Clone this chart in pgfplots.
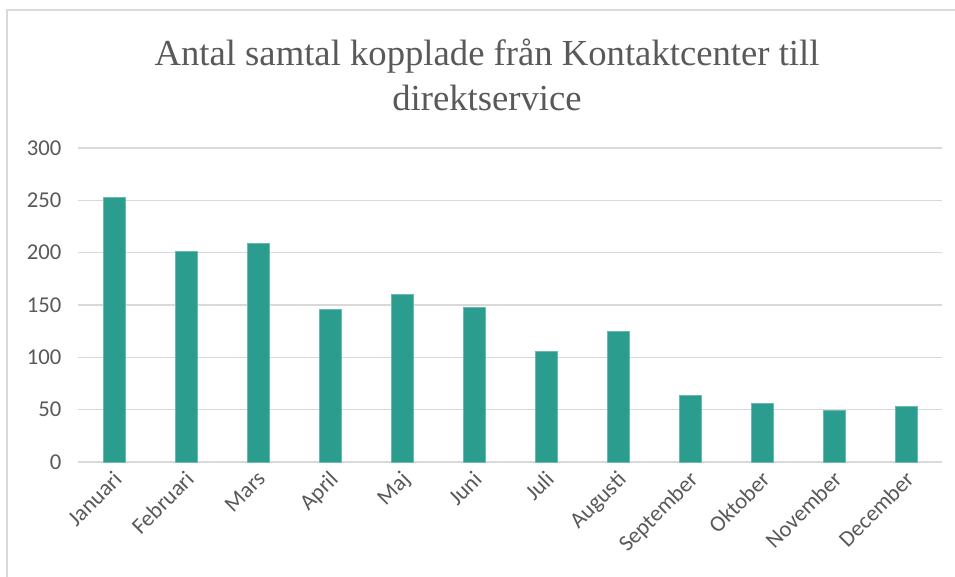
\documentclass[border=0pt]{standalone}
\usepackage{fontspec}
\setmainfont{Liberation Serif}
\newfontfamily\labelfont{Carlito}
\usepackage{pgfplots}
\pgfplotsset{compat=1.18}
\definecolor{barteal}{HTML}{2A9D8F}
\definecolor{txtgray}{HTML}{595959}
\definecolor{gridgray}{HTML}{D9D9D9}
\begin{document}
\begin{tikzpicture}
\useasboundingbox (0,0) rectangle (716.25pt,432.75pt);
\draw[gridgray,line width=1.5pt] (5.25pt,0) -- (5.25pt,425.25pt) -- (716.25pt,425.25pt);
\node[txtgray,align=center,font=\fontsize{27.5}{34}\selectfont] at (365.25pt,376.5pt)
  {Antal samtal kopplade från Kontaktcenter till\\direktservice};
\begin{axis}[
    at={(58.5pt,86.25pt)}, anchor=south west,
    scale only axis,
    width=648pt, height=235.5pt,
    ymin=0, ymax=300,
    xmin=-0.5, xmax=11.5,
    ytick={0,50,...,300},
    xtick=data,
    xticklabels={Januari,Februari,Mars,April,Maj,Juni,Juli,Augusti,September,Oktober,November,December},
    xticklabel style={rotate=45, anchor=north east, font=\labelfont\fontsize{17}{18}\selectfont, text=txtgray, inner sep=3pt, xshift=-2pt},
    yticklabel style={font=\labelfont\fontsize{17}{20}\selectfont, text=txtgray, xshift=-9pt},
    /pgf/number format/assume math mode=true,
    major tick length=0pt,
    ymajorgrids,
    grid style={gridgray, line width=0.9pt},
    axis x line*=bottom,
    axis y line*=left,
    x axis line style={gridgray, line width=0.9pt, -},
    y axis line style={draw=none},
    ytick style={draw=none},
    xtick style={draw=none},
    ybar, bar width=16.5pt,
    clip=false,
]
\addplot[fill=barteal, draw=barteal!70!white, line width=0.4pt] coordinates {
  (0,253) (1,201) (2,209) (3,146) (4,160) (5,148)
  (6,106) (7,125) (8,64) (9,56) (10,49) (11,53)
};
\end{axis}
\end{tikzpicture}
\end{document}
